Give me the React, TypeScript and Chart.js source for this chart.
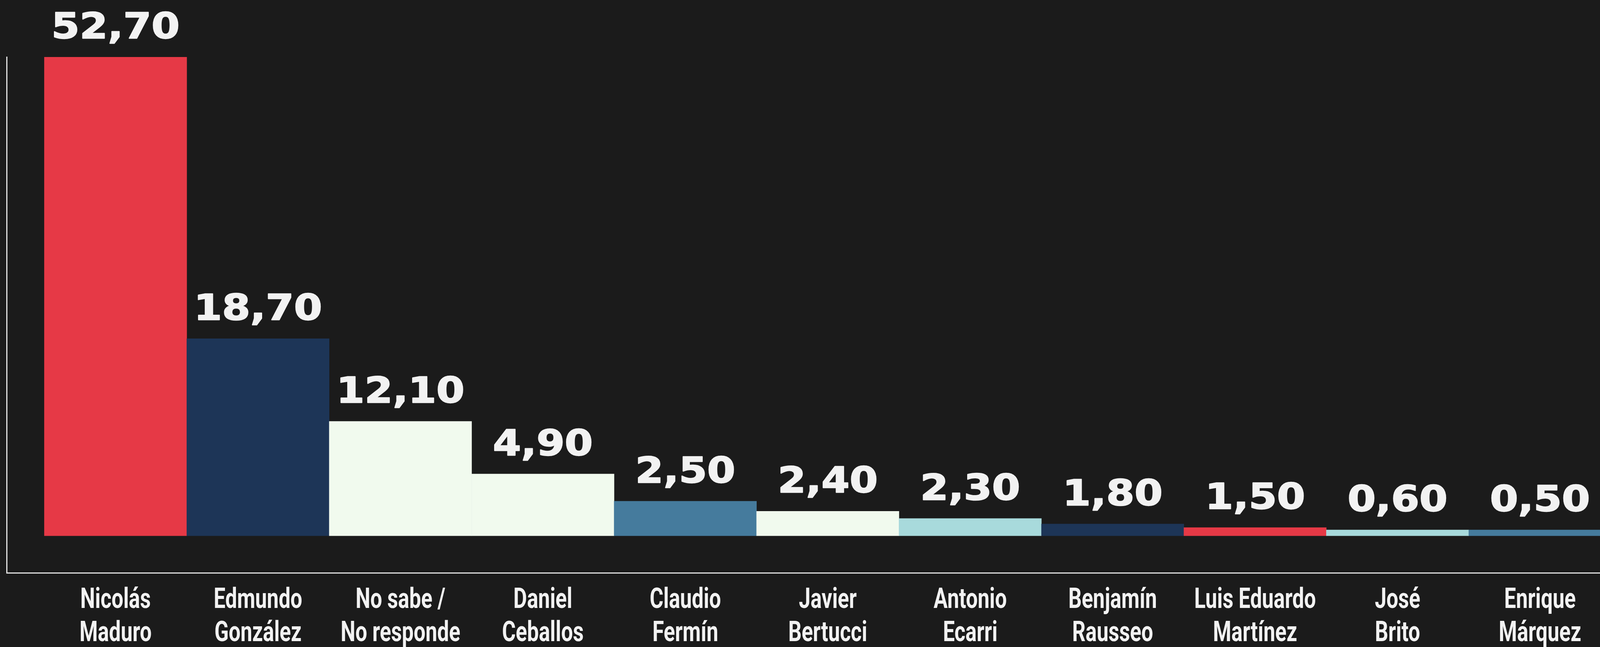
import React, { useEffect, useRef } from 'react';
import { Chart, registerables } from 'chart.js';

Chart.register(...registerables);

// Category names (two lines each, as printed under the bars)
const categories: string[][] = [
  ['Nicolás', 'Maduro'],
  ['Edmundo', 'González'],
  ['No sabe /', 'No responde'],
  ['Daniel', 'Ceballos'],
  ['Claudio', 'Fermín'],
  ['Javier', 'Bertucci'],
  ['Antonio', 'Ecarri'],
  ['Benjamín', 'Rausseo'],
  ['Luis Eduardo', 'Martínez'],
  ['José', 'Brito'],
  ['Enrique', 'Márquez'],
];

// Value labels printed above the bars
const valueLabels: string[] = ['52,70', '18,70', '12,10', '4,90', '2,50', '2,40', '2,30', '1,80', '1,50', '0,60', '0,50'];

// Bar heights as drawn in the picture (same axis units, Maduro = 52.7)
const barHeights: number[] = [52.7, 21.7, 12.6, 6.8, 3.8, 2.7, 1.9, 1.3, 0.9, 0.65, 0.65];

const barColors: string[] = [
  '#E63946',
  '#1D3557',
  '#F1FAEE',
  '#F1FAEE',
  '#457B9D',
  '#F1FAEE',
  '#A8DADC',
  '#1D3557',
  '#E63946',
  '#A8DADC',
  '#457B9D',
];

const TEXT_COLOR = '#F2F2F2';
const AXIS_COLOR = '#E2E2E2';

// design in reference pixels (4403 x 1657 picture), stretched to the viewport
const REF_W = 4403;
const REF_H = 1657;
const CANVAS_REF_W = 4444;
const AREA_LEFT = 18.5;
const AREA_TOP = 146;
const AREA_BOTTOM = 1467.5;

export default function App() {
  const canvasRef = useRef<HTMLCanvasElement | null>(null);

  useEffect(() => {
    document.body.style.backgroundColor = '#1B1B1B';
    document.body.style.overflow = 'hidden';
    document.body.style.margin = '0';
    const canvas = canvasRef.current;
    if (!canvas) return;

    const sx = (window.innerWidth || REF_W) / REF_W;
    const sy = (window.innerHeight || REF_H) / REF_H;
    const cssW = Math.round(CANVAS_REF_W * sx);
    const cssH = Math.round(REF_H * sy);
    canvas.width = cssW;
    canvas.height = cssH;
    canvas.style.width = cssW + 'px';
    canvas.style.height = cssH + 'px';

    const valueLabelPlugin = {
      id: 'valueLabels',
      afterDatasetsDraw(chart: any) {
        const ctx = chart.ctx as CanvasRenderingContext2D;
        const meta = chart.getDatasetMeta(0);
        ctx.save();
        ctx.fillStyle = TEXT_COLOR;
        ctx.strokeStyle = TEXT_COLOR;
        ctx.lineWidth = 2.5 * sy;
        ctx.lineJoin = 'round';
        ctx.font = `bold ${90 * sy}px "DejaVu Sans", sans-serif`;
        ctx.textAlign = 'center';
        ctx.textBaseline = 'alphabetic';
        meta.data.forEach((bar: any, i: number) => {
          const { x, y } = bar.getProps(['x', 'y'], true);
          ctx.save();
          ctx.translate(x, y - 48 * sy);
          ctx.scale((1.24 * sx) / sy, 1);
          ctx.fillText(valueLabels[i], 0, 0);
          ctx.strokeText(valueLabels[i], 0, 0);
          ctx.restore();
        });
        ctx.restore();
      },
    };

    const categoryLabelPlugin = {
      id: 'categoryLabels',
      afterDraw(chart: any) {
        const ctx = chart.ctx as CanvasRenderingContext2D;
        const xScale = chart.scales.x;
        const bottom = chart.chartArea.bottom;
        ctx.save();
        ctx.fillStyle = TEXT_COLOR;
        ctx.font = `bold ${72 * sy}px Roboto, "Liberation Sans", sans-serif`;
        ctx.textAlign = 'center';
        ctx.textBaseline = 'alphabetic';
        xScale.ticks.forEach((t: any, i: number) => {
          const lines = categories[t.value];
          if (!lines) return;
          const x = xScale.getPixelForTick(i);
          lines.forEach((line: string, j: number) => {
            ctx.save();
            ctx.translate(x, bottom + (89.5 + j * 85) * sy);
            ctx.scale((0.8 * sx) / sy, 1);
            ctx.fillText(line, 0, 0);
            ctx.restore();
          });
        });
        ctx.restore();
      },
    };

    const chart = new Chart(canvas, {
      type: 'bar',
      data: {
        datasets: [
          {
            data: barHeights.map((v, i) => ({ x: i, y: v })) as any,
            backgroundColor: barColors,
            borderWidth: 0,
            barPercentage: 1,
            categoryPercentage: 1,
          },
        ],
      },
      options: {
        responsive: false,
        animation: false,
        layout: {
          padding: {
            left: AREA_LEFT * sx,
            top: AREA_TOP * sy,
            right: 10 * sx,
            bottom: (REF_H - AREA_BOTTOM) * sy,
          },
        },
        plugins: {
          legend: { display: false },
          tooltip: { enabled: false },
        },
        scales: {
          x: {
            type: 'linear',
            offset: false,
            min: -0.764,
            max: 10.5,
            grid: { display: false, drawTicks: false, offset: false },
            border: { display: true, color: AXIS_COLOR, width: 3 },
            afterBuildTicks: (scale: any) => {
              scale.ticks = categories.map((_, i) => ({ value: i }));
            },
            ticks: { display: false, autoSkip: false, maxRotation: 0 },
          },
          y: {
            min: -4.1,
            max: 52.7,
            ticks: { display: false },
            grid: { display: false, drawTicks: false },
            border: { display: true, color: AXIS_COLOR, width: 3 },
          },
        },
      },
      plugins: [valueLabelPlugin, categoryLabelPlugin],
    } as any);
    return () => {
      chart.destroy();
    };
  }, []);

  return (
    <div style={{ width: '100vw', height: '100vh', overflow: 'hidden' }}>
      <canvas ref={canvasRef} style={{ display: 'block' }} />
    </div>
  );
}
